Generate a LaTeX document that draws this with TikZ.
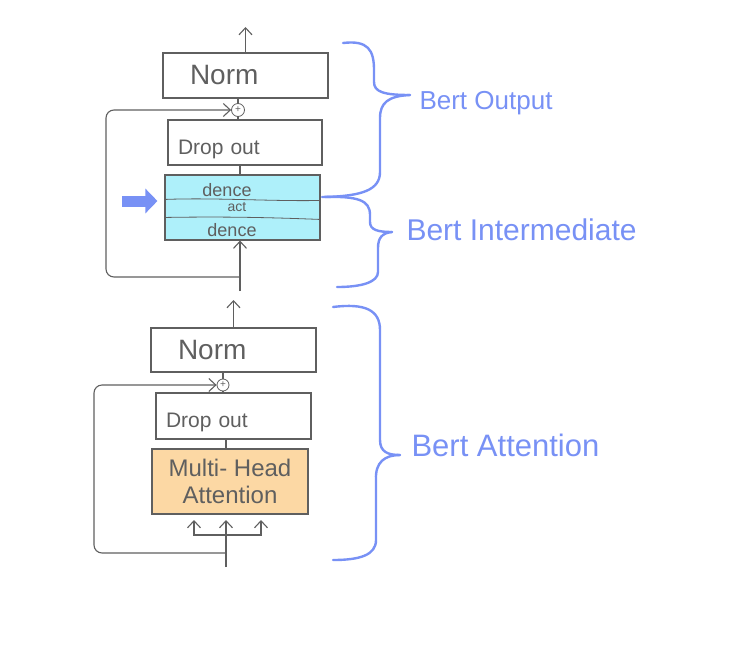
\documentclass[tikz,border=0pt]{standalone}
\usepackage{fontspec}
\setmainfont{Liberation Sans}
\usetikzlibrary{arrows.meta,calc}
\definecolor{penblue}{RGB}{120,145,245}
\definecolor{pencil}{RGB}{95,95,95}
\definecolor{densefill}{RGB}{174,240,250}
\definecolor{attnfill}{RGB}{252,216,164}

\begin{document}
\begin{tikzpicture}[x=1pt,y=-1pt,>={Straight Barb[length=7pt,width=13pt]}]
\tikzstyle{line}=[draw=pencil,line width=1.1pt]
\tikzstyle{box}=[draw=pencil,line width=1.1pt,align=left,text=pencil]
\tikzstyle{plus}=[draw=pencil,circle,line width=0.8pt,inner sep=0pt,minimum size=13pt,text=pencil,font=\fontsize{10}{10}\selectfont]
\tikzstyle{hand}=[text=pencil]
\tikzstyle{brace}=[draw=penblue,line width=2.4pt,line cap=round,line join=round]
\tikzstyle{blabel}=[text=penblue,anchor=west]
\useasboundingbox (0,0) rectangle (730,646);

% BertIntermediate + BertOutput
\begin{scope}
    \node [box,minimum height=45pt,inner xsep=27pt,text width=111pt,font=\fontsize{28}{30}\selectfont] (norm1) at (245.5,75.5) {Norm};
    \node [plus] (plus1) at (238,110) {+};
    \node [box,minimum height=45pt,inner xsep=10pt,text width=134pt,text height=23pt,text depth=0pt,font=\fontsize{21}{22}\selectfont] (drop1) at (245,142.5) {Drop out};
    \node [line,fill=densefill,minimum width=155pt,minimum height=65pt] (dense) at (242.5,207.5) {};
    \draw[line,line width=0.8pt] ($(dense.north west)+(0,25)$) .. controls +(50,-2) and +(-50,1) .. ($(dense.north east)+(0,26)$);
    \draw[line,line width=0.8pt] ($(dense.north west)+(0,43)$) .. controls +(60,-1) and +(-50,-2) .. ($(dense.north east)+(0,45)$);
    \node [hand,font=\fontsize{18}{20}\selectfont] (dence1) at (227,190) {dence};
    \node [hand,font=\fontsize{14}{16}\selectfont] (act) at (237,207) {act};
    \node [hand,font=\fontsize{18}{20}\selectfont] (dence2) at (232,230) {dence};
    \coordinate (out1) at (245.5,27);
    \coordinate (in1) at (240,291);
    \coordinate (split1) at (240,277);
    \coordinate (feed) at (122,201);
    \draw[line,->] (norm1.north) -- (out1);
    \draw[line] (plus1) -- (plus1 |- norm1.south);
    \draw[line] (plus1) -- (plus1 |- drop1.north);
    \draw[line] (in1 |- drop1.south) -- (in1 |- dense.north);
    \draw[line,->] (in1) -- (in1 |- dense.south);
    \draw[line,->,rounded corners=8pt] (split1) -| (106,110) -- (plus1.west);
    \draw[penblue,line width=11pt,shorten >=7pt,-{Triangle[length=12pt,width=24pt]}] (feed) -- (feed -| dense.west);
\end{scope}

% BertAttention
\begin{scope}
    \node [box,minimum height=44pt,inner xsep=27pt,text width=111pt,font=\fontsize{28}{30}\selectfont] (norm2) at (233.5,350) {Norm};
    \node [plus,minimum size=12pt] (plus2) at (223,385) {+};
    \node [box,minimum height=46pt,inner xsep=10pt,text width=135pt,text height=23pt,text depth=0pt,font=\fontsize{21}{22}\selectfont] (drop2) at (233.5,416) {Drop out};
    \node [box,fill=attnfill,align=center,minimum width=156pt,minimum height=65pt,font=\fontsize{24}{27}\selectfont] (mha) at (230,481.5) {Multi- Head\\Attention};
    \coordinate (out2) at (233.5,300);
    \coordinate (in2) at (226,567);
    \coordinate (fork) at (226,535);
    \coordinate (split2) at (226,553);
    \coordinate (qin) at (194,520);
    \coordinate (kin) at (226,520);
    \coordinate (vin) at (261,520);
    \draw[line,->] (norm2.north) -- (out2);
    \draw[line] (plus2) -- (plus2 |- norm2.south);
    \draw[line] (plus2) -- (plus2 |- drop2.north);
    \draw[line] (in2 |- drop2.south) -- (in2 |- mha.north);
    \draw[line,->] (in2) -- (kin);
    \draw[line,->] (fork) -| (qin);
    \draw[line,->] (fork) -| (vin);
    \draw[line,->,rounded corners=8pt] (split2) -| (94,385) -- (plus2.west);
\end{scope}

% braces
\draw[brace] (343,43) .. controls (368,40) and (374,50) .. (374,70)
    -- (374,82) .. controls (374,92) and (384,95) .. (410,95);
\draw[brace] (410,95) .. controls (388,96) and (380,103) .. (380,118)
    -- (380,172) .. controls (380,190) and (362,196) .. (325,197);
\draw[brace] (322,197) .. controls (358,196) and (370,200) .. (370,215)
    -- (370,222) .. controls (370,230) and (378,232) .. (392,232);
\draw[brace] (392,232) .. controls (382,233) and (378,238) .. (378,248)
    -- (378,272) .. controls (378,282) and (362,287) .. (337,287);
\draw[brace] (333,307) .. controls (365,303) and (380,310) .. (380,330)
    -- (380,440) .. controls (380,452) and (388,455) .. (400,455);
\draw[brace] (400,455) .. controls (385,455) and (375,462) .. (376,480)
    -- (376,540) .. controls (376,555) and (360,560) .. (333,560);
\node [blabel,font=\fontsize{26}{28}\selectfont] (lblout) at (416,103) {Bert Output};
\node [blabel,font=\fontsize{30}{32}\selectfont] (lblinter) at (403,230) {Bert Intermediate};
\node [blabel,font=\fontsize{31}{33}\selectfont] (lblattn) at (408,445) {Bert Attention};

\end{tikzpicture}
\end{document}
